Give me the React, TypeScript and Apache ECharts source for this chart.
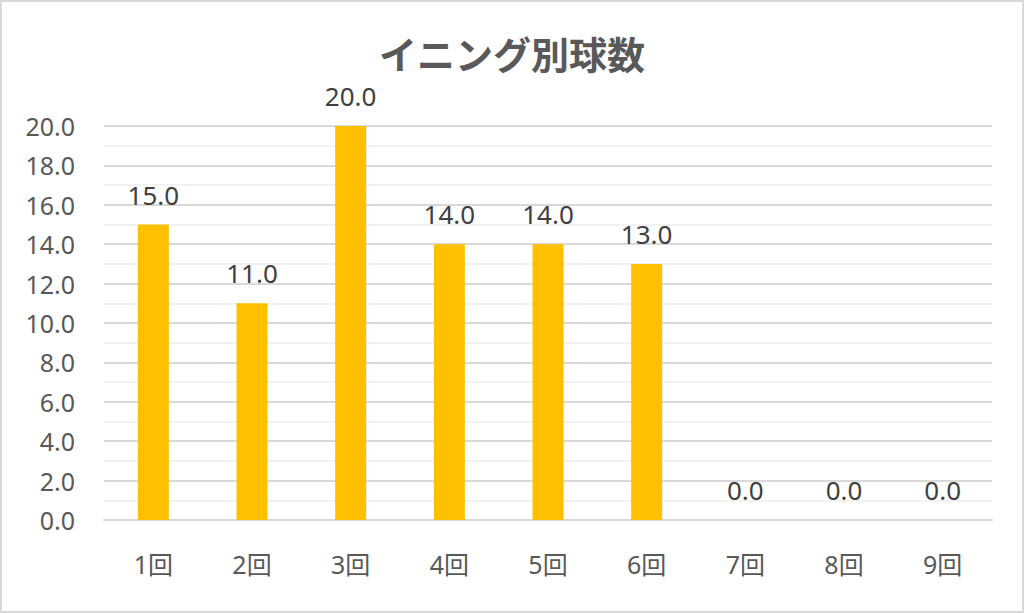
import { useEffect, useRef } from "react";
import * as echarts from "echarts";

const innings = ["1回", "2回", "3回", "4回", "5回", "6回", "7回", "8回", "9回"];
const pitches = [15, 11, 20, 14, 14, 13, 0, 0, 0];
const chartTitle = "イニング別球数";

const FONT = "'Noto Sans', 'Noto Sans CJK JP', sans-serif";
const CJK = "'Noto Sans CJK JP', sans-serif";

export default function App() {
  const chartRef = useRef<HTMLDivElement>(null);

  useEffect(() => {
    if (!chartRef.current) return;
    const chart = echarts.init(chartRef.current, undefined, { renderer: "svg" });

    chart.setOption({
      animation: false,
      backgroundColor: "#ffffff",
      textStyle: { fontFamily: FONT },
      title: {
        text: chartTitle,
        left: "center",
        top: 26,
        textStyle: { fontSize: 38, fontWeight: "bold", color: "#595959", fontFamily: CJK },
      },
      grid: { left: 102, right: 30, top: 124, bottom: 91 },
      xAxis: {
        type: "category",
        data: innings,
        axisLine: { lineStyle: { color: "#d9d9d9", width: 2 } },
        axisTick: { show: false },
        axisLabel: { color: "#595959", fontSize: 25, margin: 31, fontFamily: FONT },
      },
      yAxis: {
        type: "value",
        min: 0,
        max: 20,
        interval: 2,
        axisLine: { show: false },
        axisTick: { show: false },
        axisLabel: {
          color: "#595959",
          fontSize: 25,
          margin: 29,
          fontFamily: FONT,
          formatter: (v: number) => v.toFixed(1),
        },
        splitLine: { lineStyle: { color: "#d9d9d9", width: 2 } },
        minorTick: { show: false, splitNumber: 2 },
        minorSplitLine: { show: true, lineStyle: { color: "#f2f2f2", width: 2 } },
      },
      series: [
        {
          type: "bar",
          data: pitches,
          barWidth: 31,
          itemStyle: { color: "#ffc000" },
          label: {
            show: true,
            position: "top",
            distance: 17,
            color: "#404040",
            fontSize: 26,
            fontFamily: FONT,
            formatter: (p: { value: number }) => p.value.toFixed(1),
          },
        },
      ],
    });

    return () => chart.dispose();
  }, []);

  return (
    <div
      style={{
        position: "fixed",
        left: 0,
        top: 0,
        width: 1024,
        height: 613,
        boxSizing: "border-box",
        border: "2px solid #d9d9d9",
        background: "#fff",
      }}
    >
      <div ref={chartRef} style={{ width: 1020, height: 609 }} />
    </div>
  );
}
